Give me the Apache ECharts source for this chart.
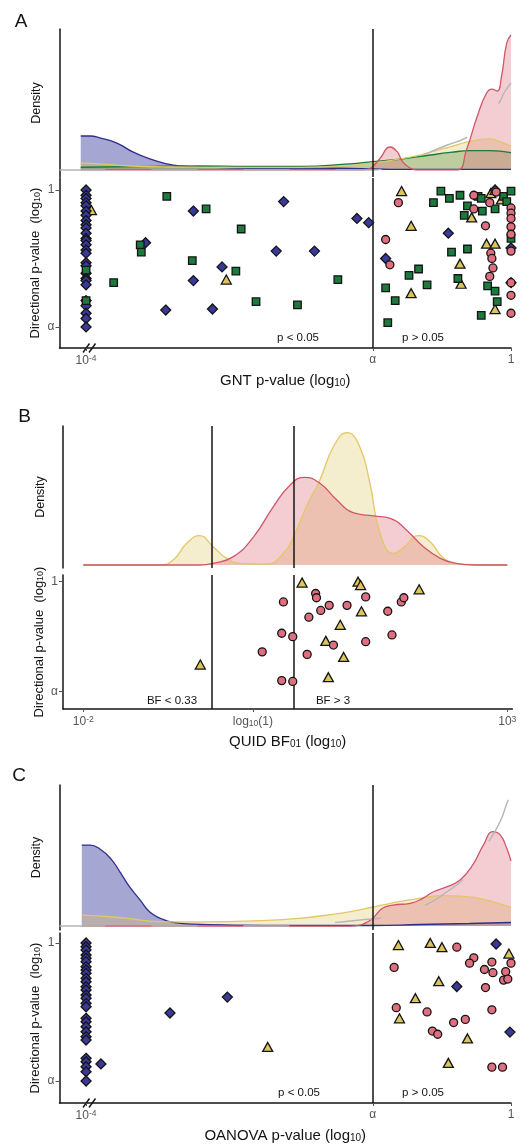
<!DOCTYPE html>
<html>
<head>
<meta charset="utf-8">
<script src="https://cdn.jsdelivr.net/npm/echarts@6/dist/echarts.min.js"></script>
<style>
  html, body { margin: 0; padding: 0; background: #fff; }
  #chart { width: 522px; height: 1145px; }
</style>
</head>
<body>
<div id="chart"></div>
<script>
const ALPHA = Math.log10(0.05);
const BF_LOW = Math.log10(1 / 3);
const BF_HIGH = Math.log10(3);

// tick positions, log10 units
const pTicks = [-4, ALPHA, 0];
const bfTicks = [-2, 0, 3];
const dirTicks = [ALPHA, 0];

// A: GNT, points are [log10 p, log10 directional p]
const gntDiamonds = [
  [-4, 0], [-4, -0.05], [-4, -0.08], [-4, -0.12], [-4, -0.15], [-4, -0.20], [-4, -0.24], [-4, -0.29],
  [-4, -0.33], [-4, -0.36], [-4, -0.41], [-4, -0.46], [-4, -0.48], [-4, -0.52], [-4, -0.57], [-4, -0.60],
  [-4, -0.69], [-4, -0.72], [-4, -0.79], [-4, -0.84], [-4, -0.86], [-4, -0.90], [-4, -1.05], [-4, -1.10],
  [-4, -1.17], [-4, -1.22], [-4, -1.30],
  [-3.44, -0.50], [-2.99, -0.20], [-3.25, -1.14], [-2.99, -0.86], [-2.81, -1.13], [-2.72, -0.73],
  [-2.14, -0.11], [-2.21, -0.58], [-1.85, -0.58], [-1.45, -0.27], [-1.34, -0.31], [-0.59, -0.41],
  [-1.18, -0.65], [-0.15, 0], [0, -0.88], [0, -0.55]
];
const gntSquares = [
  [-4, -0.76], [-4, -1.05], [-3.74, -0.88], [-3.49, -0.52], [-3.48, -0.59], [-3.24, -0.06], [-2.87, -0.18],
  [-3.00, -0.67], [-2.54, -0.37], [-2.59, -0.77], [-2.40, -1.06], [-2.01, -1.09], [-1.63, -0.85],
  [-0.66, -0.01], [-0.58, -0.08], [-0.73, -0.12], [-0.48, -0.05], [-0.31, -0.06], [-0.28, -0.08],
  [-0.41, -0.15], [-0.44, -0.24], [-0.27, -0.20], [-0.15, -0.18], [-0.07, -0.06], [0, -0.01],
  [-0.04, -0.11], [0, -0.46], [-0.56, -0.59], [-0.41, -0.56], [-0.96, -0.81], [-0.87, -0.75],
  [-0.79, -0.90], [-1.18, -0.93], [-1.09, -1.05], [-1.16, -1.26], [-0.50, -0.84], [-0.22, -0.91],
  [-0.15, -0.96], [-0.13, -1.06], [-0.28, -1.19]
];
const gntTriangles = [
  [-3.95, -0.19], [-2.68, -0.85], [-1.03, -0.01], [-0.94, -0.34], [-0.94, -0.98], [-0.48, -0.70],
  [-0.47, -0.89], [-0.37, -0.26], [-0.23, -0.51], [-0.15, -0.51], [-0.15, -1.13], [-0.19, -0.03],
  [-0.09, -0.09], [-0.15, 0]
];
const gntCircles = [
  [-1.06, -0.12], [-1.18, -0.47], [-1.14, -0.71], [-0.35, -0.05], [-0.14, -0.02], [-0.35, -0.18],
  [-0.20, -0.12], [-0.24, -0.34], [0, -0.17], [0, -0.22], [0, -0.27], [0, -0.35], [0, -0.42], [0, -0.58],
  [0, -0.88], [0, -1.00], [0, -1.17], [-0.19, -0.60], [-0.18, -0.65], [-0.17, -0.74], [-0.20, -0.82]
];

// A densities, [log10 p, density]
const gntDensBlue = [[-4.05, 0.241], [-3.96, 0.241], [-3.87, 0.227], [-3.71, 0.191], [-3.56, 0.128], [-3.40, 0.078], [-3.24, 0.043], [-3.12, 0.028], [-2.93, 0.021], [-2.46, 0.014], [-1.99, 0.014], [-1.52, 0.011], [-1.30, 0.007], [-1.05, 0.004], [-0.57, 0.004], [0, 0.004]];
const gntDensGreen = [[-4.05, 0.019], [-3.40, 0.025], [-2.93, 0.028], [-2.46, 0.025], [-1.99, 0.025], [-1.52, 0.043], [-1.30, 0.059], [-1.05, 0.076], [-0.76, 0.106], [-0.57, 0.124], [-0.39, 0.137], [-0.20, 0.137], [0, 0.123]];
const gntDensYellow = [[-4.05, 0.050], [-3.87, 0.043], [-3.59, 0.028], [-3.21, 0.021], [-2.46, 0.018], [-1.99, 0.018], [-1.61, 0.025], [-1.30, 0.050], [-1.05, 0.078], [-0.86, 0.106], [-0.61, 0.156], [-0.39, 0.202], [-0.20, 0.220], [-0.10, 0.199], [0, 0.170]];
const gntDensRed = [[-4.05, 0], [-1.39, 0], [-1.32, 0.014], [-1.23, 0.085], [-1.14, 0.163], [-1.07, 0.128], [-1.02, 0.057], [-0.95, 0.014], [-0.89, 0], [-0.51, 0], [-0.42, 0.142], [-0.32, 0.376], [-0.23, 0.546], [-0.18, 0.574], [-0.13, 0.560], [-0.09, 0.660], [-0.04, 0.901], [0, 0.957]];
const gntDensGrey = [[-4.25, 0], [-3, 0], [-2, 0], [-1.5, 0], [-1.30, 0], [-1.20, 0.007], [-1.05, 0.035], [-0.78, 0.121], [-0.60, 0.177], [-0.41, 0.234], [-0.29, 0.319], [-0.20, 0.404], [-0.12, 0.468], [-0.06, 0.553], [0, 0.617]];

// B: QUID, points are [log10 BF01, log10 directional p]
const quidTriangles = [
  [0.58, -0.01], [1.24, 0], [1.27, -0.04], [1.96, -0.09], [1.28, -0.35], [1.03, -0.51], [0.86, -0.70],
  [1.07, -0.89], [0.89, -1.13], [-0.62, -0.98]
];
const quidCircles = [
  [0.36, -0.24], [0.74, -0.14], [0.75, -0.19], [0.90, -0.28], [1.11, -0.28], [1.33, -0.18], [0.80, -0.34],
  [0.66, -0.42], [1.59, -0.35], [1.75, -0.24], [1.78, -0.19], [0.34, -0.61], [0.47, -0.65], [0.95, -0.75],
  [1.33, -0.71], [1.64, -0.63], [0.11, -0.83], [0.64, -0.86], [0.34, -1.17], [0.47, -1.18]
];
const quidDensYellow = [[-2, 0], [-1.10, 0], [-0.94, 0.036], [-0.78, 0.156], [-0.63, 0.211], [-0.47, 0.132], [-0.31, 0.048], [-0.15, 0.012], [0.16, 0.007], [0.36, 0.084], [0.48, 0.204], [0.63, 0.419], [0.79, 0.612], [0.95, 0.851], [1.11, 0.952], [1.26, 0.851], [1.38, 0.588], [1.50, 0.228], [1.66, 0.084], [1.79, 0.132], [1.95, 0.211], [2.09, 0.168], [2.25, 0.048], [2.44, 0.007], [3, 0]];
const quidDensRed = [[-2, 0], [-0.63, 0], [-0.47, 0.012], [-0.23, 0.060], [0.01, 0.204], [0.24, 0.419], [0.44, 0.576], [0.61, 0.631], [0.79, 0.588], [0.99, 0.468], [1.18, 0.376], [1.42, 0.353], [1.62, 0.336], [1.81, 0.252], [2.01, 0.132], [2.21, 0.048], [2.40, 0.012], [2.60, 0], [3, 0]];

// C: OANOVA
const oanovaDiamonds = [
  [-4, 0], [-4, -0.035], [-4, -0.066], [-4, -0.113], [-4, -0.144], [-4, -0.176], [-4, -0.223], [-4, -0.255],
  [-4, -0.286], [-4, -0.333], [-4, -0.365], [-4, -0.412], [-4, -0.443], [-4, -0.490], [-4, -0.521],
  [-4, -0.569], [-4, -0.601], [-4, -0.710], [-4, -0.742], [-4, -0.789], [-4, -0.836], [-4, -0.883],
  [-4, -0.915], [-4, -1.087], [-4, -1.119], [-4, -1.166], [-4, -1.213], [-4, -1.301],
  [-3.86, -1.14], [-3.21, -0.66], [-2.67, -0.51], [-0.14, -0.01], [-0.51, -0.41], [-0.01, -0.84]
];
const oanovaTriangles = [
  [-2.29, -0.98], [-1.06, -0.02], [-0.76, 0], [-0.65, -0.04], [-0.02, -0.10], [-0.68, -0.36], [-0.90, -0.52],
  [-1.05, -0.71], [-0.41, -0.90], [-0.59, -1.13]
];
const oanovaCircles = [
  [-0.51, -0.04], [-0.35, -0.14], [-0.39, -0.19], [-0.18, -0.18], [-0.25, -0.25], [-0.17, -0.28],
  [-0.05, -0.27], [0, -0.19], [-0.07, -0.35], [-0.03, -0.34], [-1.10, -0.23], [-0.24, -0.42], [-1.08, -0.61],
  [-0.79, -0.65], [-0.54, -0.75], [-0.43, -0.72], [-0.18, -0.63], [-0.74, -0.83], [-0.69, -0.86],
  [-0.18, -1.17], [-0.08, -1.17]
];
const oanovaDensBlue = [[-4.04, 0.574], [-3.96, 0.574], [-3.87, 0.546], [-3.77, 0.480], [-3.68, 0.383], [-3.59, 0.277], [-3.49, 0.184], [-3.40, 0.099], [-3.30, 0.055], [-3.18, 0.026], [-2.99, 0.014], [-2.62, 0.007], [-1.99, 0.004], [-1.30, 0.004], [-0.86, 0.011], [-0.39, 0.018], [0, 0.025]];
const oanovaDensYellow = [[-4.04, 0.078], [-3.77, 0.066], [-3.56, 0.050], [-3.40, 0.035], [-3.24, 0.030], [-2.93, 0.030], [-2.30, 0.040], [-1.99, 0.055], [-1.68, 0.083], [-1.49, 0.106], [-1.30, 0.135], [-1.11, 0.165], [-0.86, 0.196], [-0.64, 0.215], [-0.41, 0.208], [-0.23, 0.184], [0, 0.133]];
const oanovaDensRed = [[-4.04, 0], [-1.52, 0], [-1.42, 0.007], [-1.36, 0.026], [-1.30, 0.055], [-1.21, 0.126], [-1.11, 0.149], [-0.95, 0.161], [-0.83, 0.196], [-0.73, 0.243], [-0.60, 0.279], [-0.48, 0.326], [-0.36, 0.433], [-0.26, 0.574], [-0.17, 0.669], [-0.10, 0.645], [-0.04, 0.551], [0, 0.461]];
const oanovaDensGrey = [[-4.25, 0], [-3, 0], [-2.5, 0], [-2.08, 0], [-1.64, 0.026], [-1.42, 0.043], [-1.21, 0.059], [-1.00, 0.099], [-0.79, 0.154], [-0.62, 0.234], [-0.45, 0.333], [-0.33, 0.461], [-0.21, 0.598], [-0.10, 0.745], [-0.03, 0.887], [0, 0.929]];

const FONT = '"Liberation Sans", Arial, sans-serif';
const INK = '#141414';
const TICK_GREY = '#555';
const C = {
  blue: '#39399c', blueLine: '#2e2e8c',
  green: '#1c7b3c', greenLine: '#1c7a3a',
  yellow: '#dcc45e', yellowLine: '#e2c766',
  red: '#df6f7f', redLine: '#d0566b',
  grey: '#b5b5b5'
};

const chart = echarts.init(document.getElementById('chart'), null, { renderer: 'canvas' });

const grids = [
  { left: 59.5, width: 451.5, top: 29, height: 148 },   // A density
  { left: 59.5, width: 451.5, top: 178, height: 170 },  // A scatter
  { left: 63, width: 449.4, top: 426, height: 142 },    // B density
  { left: 63, width: 449.4, top: 575, height: 134 },    // B scatter
  { left: 59.5, width: 451.5, top: 785, height: 145 },  // C density
  { left: 59.5, width: 451.5, top: 933, height: 170 }   // C scatter
];

const subRich = {
  s: { fontSize: 10, verticalAlign: 'bottom', padding: [5, 0, 0, 0] }
};
const tickRich = {
  sup: { fontSize: 8.5, verticalAlign: 'top', padding: [0, 0, 5, 0] },
  sub: { fontSize: 8.5, verticalAlign: 'bottom', padding: [4, 0, 0, 0] }
};

function hiddenX(g, min, max) {
  return { gridIndex: g, type: 'value', min, max, show: false };
}

function densityY(g, min) {
  return {
    gridIndex: g, type: 'value', min, max: 1,
    axisLine: { show: true, onZero: false, lineStyle: { color: INK, width: 1.5 } },
    axisTick: { show: false }, axisLabel: { show: false }, splitLine: { show: false },
    name: 'Density', nameLocation: 'middle', nameGap: 16, nameMoveOverlap: false,
    nameTextStyle: { fontFamily: FONT, fontSize: 12.5, color: INK }
  };
}

function scatterX(g, min, max, ticks, fmt, name) {
  return {
    gridIndex: g, type: 'value', min, max,
    axisLine: { show: true, onZero: false, lineStyle: { color: INK, width: 1.5 } },
    axisTick: { show: true, customValues: ticks, length: 3, lineStyle: { color: TICK_GREY } },
    axisLabel: { customValues: ticks, formatter: fmt, color: TICK_GREY, fontSize: 12, fontFamily: FONT, margin: 6, rich: tickRich },
    splitLine: { show: false },
    name, nameLocation: 'middle', nameGap: 25, nameMoveOverlap: false,
    nameTextStyle: { fontFamily: FONT, fontSize: 15, color: INK, rich: subRich }
  };
}

function scatterY(g, min, max) {
  return {
    gridIndex: g, type: 'value', min, max,
    axisLine: { show: true, onZero: false, lineStyle: { color: INK, width: 1.5 } },
    axisTick: { show: true, customValues: dirTicks, length: 4, lineStyle: { color: TICK_GREY } },
    axisLabel: {
      customValues: dirTicks, color: TICK_GREY, fontSize: 12, fontFamily: FONT, margin: 5,
      formatter: v => (Math.abs(v) < 1e-6 ? '1' : 'α')
    },
    splitLine: { show: false },
    name: 'Directional p-value  (log{s|10})', nameLocation: 'middle', nameGap: 17.5, nameMoveOverlap: false,
    nameTextStyle: { fontFamily: FONT, fontSize: 13, color: INK, rich: { s: { fontSize: 9, verticalAlign: 'bottom', padding: [4, 0, 0, 0] } } }
  };
}

const pFmt = v => {
  if (Math.abs(v + 4) < 1e-6) return '10{sup|-4}';
  if (Math.abs(v) < 1e-6) return '1';
  return 'α';
};
const bfFmt = v => {
  if (Math.abs(v + 2) < 1e-6) return '10{sup|-2}';
  if (Math.abs(v) < 1e-6) return 'log{sub|10}(1)';
  return '10{sup|3}';
};

function dens(data, color, line, opacity, g) {
  return {
    type: 'line', xAxisIndex: g, yAxisIndex: g, data, smooth: 0.5, symbol: 'none', silent: true,
    lineStyle: { color: line, width: 1.3 }, areaStyle: { color, opacity }
  };
}

function greyDens(data, g) {
  return {
    type: 'line', xAxisIndex: g, yAxisIndex: g, data, smooth: 0.5, symbol: 'none', silent: true, z: 3,
    lineStyle: { color: C.grey, width: 1.4, type: [46, 46] }
  };
}

function pts(data, symbol, size, color, g) {
  return {
    type: 'scatter', xAxisIndex: g, yAxisIndex: g, data, symbol, symbolSize: size, silent: true,
    itemStyle: { color, borderColor: INK, borderWidth: 1.3, opacity: 1 }
  };
}

function vlines(values, g, z) {
  return {
    type: 'line', xAxisIndex: g, yAxisIndex: g, data: [], silent: true,
    markLine: {
      z, symbol: ['none', 'none'], silent: true, animation: false, label: { show: false },
      lineStyle: { color: INK, width: 1.5, type: 'solid' },
      data: values.map(v => ({ xAxis: v }))
    }
  };
}

function textAt(x, y, text, size, color) {
  return {
    type: 'text', x, y, silent: true,
    style: { text, fontSize: size, fontFamily: FONT, fill: color || INK, align: 'center', verticalAlign: 'middle' }
  };
}

function axisBreak(x, y) {
  return [
    { type: 'line', silent: true, shape: { x1: x, y1: y + 4.5, x2: x + 6.5, y2: y - 4.5 }, style: { stroke: INK, lineWidth: 1.4 } },
    { type: 'line', silent: true, shape: { x1: x + 6, y1: y + 4.5, x2: x + 12.5, y2: y - 4.5 }, style: { stroke: INK, lineWidth: 1.4 } }
  ];
}

chart.setOption({
  animation: false,
  backgroundColor: '#fff',
  textStyle: { fontFamily: FONT },
  grid: grids,
  xAxis: [
    hiddenX(0, -4.25, 0),
    scatterX(1, -4.25, 0, pTicks, pFmt, 'GNT p-value (log{s|10})'),
    hiddenX(2, -2.239, 3.06),
    scatterX(3, -2.239, 3.06, bfTicks, bfFmt, 'QUID BF{s|01} (log{s|10})'),
    hiddenX(4, -4.25, 0),
    scatterX(5, -4.25, 0, pTicks, pFmt, 'OANOVA p-value (log{s|10})')
  ],
  yAxis: [
    densityY(0, -0.05),
    scatterY(1, -1.50, 0.114),
    densityY(2, -0.0216),
    scatterY(3, -1.506, 0.079),
    densityY(4, -0.028),
    scatterY(5, -1.508, 0.094)
  ],
  series: [
    // A
    dens(gntDensBlue, C.blue, C.blueLine, 0.45, 0),
    dens(gntDensGreen, C.green, C.greenLine, 0.35, 0),
    dens(gntDensYellow, C.yellow, C.yellowLine, 0.3, 0),
    dens(gntDensRed, C.red, C.redLine, 0.35, 0),
    greyDens(gntDensGrey, 0),
    vlines([ALPHA], 0, 5),
    vlines([ALPHA], 1, 1),
    pts(gntTriangles, 'triangle', [10, 9], C.yellow, 1),
    pts(gntDiamonds, 'diamond', 10, C.blue, 1),
    pts(gntSquares, 'rect', 7.5, C.green, 1),
    pts(gntCircles, 'circle', 8, C.red, 1),
    // B
    dens(quidDensYellow, C.yellow, C.yellowLine, 0.3, 2),
    dens(quidDensRed, C.red, C.redLine, 0.35, 2),
    vlines([BF_LOW, BF_HIGH], 2, 5),
    vlines([BF_LOW, BF_HIGH], 3, 1),
    pts(quidTriangles, 'triangle', [10, 9], C.yellow, 3),
    pts(quidCircles, 'circle', 8, C.red, 3),
    // C
    dens(oanovaDensBlue, C.blue, C.blueLine, 0.45, 4),
    dens(oanovaDensYellow, C.yellow, C.yellowLine, 0.3, 4),
    dens(oanovaDensRed, C.red, C.redLine, 0.35, 4),
    greyDens(oanovaDensGrey, 4),
    vlines([ALPHA], 4, 5),
    vlines([ALPHA], 5, 1),
    pts(oanovaTriangles, 'triangle', [10, 9], C.yellow, 5),
    pts(oanovaDiamonds, 'diamond', 10, C.blue, 5),
    pts(oanovaCircles, 'circle', 8, C.red, 5)
  ],
  graphic: [
    textAt(21, 22, 'A', 19),
    textAt(24.5, 417, 'B', 19),
    textAt(19, 776, 'C', 19),
    textAt(298, 338, 'p < 0.05', 11.5),
    textAt(423, 338, 'p > 0.05', 11.5),
    textAt(172, 701, 'BF < 0.33', 11.5),
    textAt(333, 701, 'BF > 3', 11.5),
    textAt(299, 1093, 'p < 0.05', 11.5),
    textAt(423, 1093, 'p > 0.05', 11.5),
    ...axisBreak(83, 348),
    ...axisBreak(83, 1103)
  ]
});
</script>
</body>
</html>
